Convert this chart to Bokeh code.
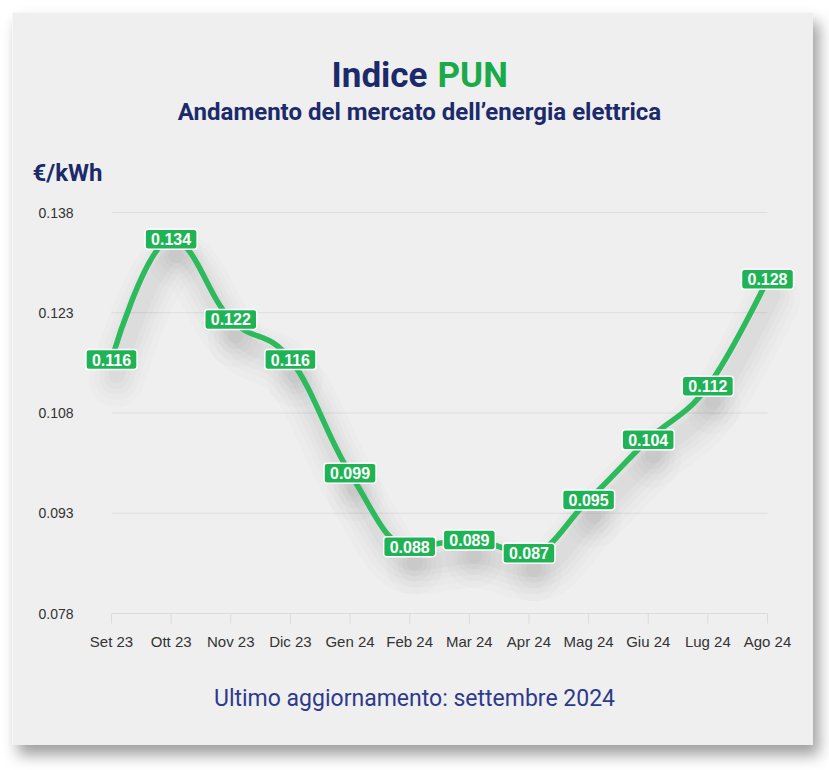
from bokeh.plotting import figure
from bokeh.models import Range1d, Label
from bokeh.core.properties import value
from bokeh.embed import file_html
from bokeh.resources import INLINE

# ---- data ----
months = ["Set 23", "Ott 23", "Nov 23", "Dic 23", "Gen 24", "Feb 24",
          "Mar 24", "Apr 24", "Mag 24", "Giu 24", "Lug 24", "Ago 24"]
pun = [0.116, 0.134, 0.122, 0.116, 0.099, 0.088,
       0.089, 0.087, 0.095, 0.104, 0.112, 0.128]
y_ticks = [0.078, 0.093, 0.108, 0.123, 0.138]
y_tick_labels = ["0.078", "0.093", "0.108", "0.123", "0.138"]

NAVY = "#1b2a6b"
GREEN_TITLE = "#1aaa4a"
LINE_GREEN = "#2dba5c"
BOX_GREEN = "#1fb356"
CARD = "#efefef"
AXIS_GRAY = "#dcdcdc"

# card geometry (page px)
CX0, CY0, CX1, CY1 = 12, 12, 813, 745
# where the category/value axes sit (page px)
PX_FIRST, PX_LAST = 111, 767
PY_TOP, PY_BOT = 212, 613

W, H = CX1 - CX0, CY1 - CY0
ncat = len(months) - 1
ux = (PX_LAST - PX_FIRST) / ncat                       # px per category
uy = (PY_BOT - PY_TOP) / (y_ticks[-1] - y_ticks[0])     # px per value unit


def dx(px):
    return (px - PX_FIRST) / ux


def dy(py):
    return y_ticks[0] + (PY_BOT - py) / uy


p = figure(width=W, height=H, output_backend="svg", toolbar_location=None,
           x_range=Range1d(dx(CX0), dx(CX1)),
           y_range=Range1d(dy(CY1), dy(CY0)),
           min_border=0,
           background_fill_color=CARD, border_fill_color=CARD,
           outline_line_color=None)
p.margin = (CY0, 0, 0, CX0)
p.styles = {"box-shadow": "6px 10px 14px rgba(0,0,0,0.38)"}
p.xaxis.visible = False
p.yaxis.visible = False
p.xgrid.grid_line_color = None
p.ygrid.grid_line_color = None

nt = len(y_ticks)
cats = list(range(len(months)))

# horizontal gridlines (value ticks) spanning the category extent
p.segment(x0=[0] * (nt - 1), x1=[ncat] * (nt - 1), y0=y_ticks[1:], y1=y_ticks[1:],
          line_color="#dedede", line_width=1)
# category axis line + tick marks
p.segment(x0=[0], x1=[ncat], y0=[y_ticks[0]], y1=[y_ticks[0]],
          line_color=AXIS_GRAY, line_width=1)
p.segment(x0=cats, x1=cats, y0=[y_ticks[0]] * len(cats),
          y1=[y_ticks[0] - 10 / uy] * len(cats), line_color=AXIS_GRAY, line_width=1)
# value tick labels
p.text(x=[0] * nt, y=y_ticks, text=y_tick_labels, x_offset=-38,
       text_align="right", text_baseline="middle", text_font=value("Liberation Sans"),
       text_font_size="14px", text_color="#333333")
# category labels
p.text(x=cats, y=[y_ticks[0]] * len(cats), text=months, y_offset=28,
       text_align="center", text_baseline="middle", text_font=value("Liberation Sans"),
       text_font_size="15px", text_color="#333333")

# ---- spline (Highcharts-style control points) ----
xs = cats
ys = pun
n = len(xs)
lc = [(xs[i], ys[i]) for i in range(n)]
rc = [(xs[i], ys[i]) for i in range(n)]
sm = 1.5
den = sm + 1
for i in range(1, n - 1):
    X, Y = xs[i], ys[i]
    lX, lY = xs[i - 1], ys[i - 1]
    nX, nY = xs[i + 1], ys[i + 1]
    lcx = (sm * X + lX) / den
    lcy = (sm * Y + lY) / den
    rcx = (sm * X + nX) / den
    rcy = (sm * Y + nY) / den
    corr = (rcy - lcy) * (rcx - X) / (rcx - lcx) + Y - rcy
    lcy += corr
    rcy += corr
    if lcy > lY and lcy > Y:
        lcy = max(lY, Y); rcy = 2 * Y - lcy
    elif lcy < lY and lcy < Y:
        lcy = min(lY, Y); rcy = 2 * Y - lcy
    if rcy > nY and rcy > Y:
        rcy = max(nY, Y); lcy = 2 * Y - rcy
    elif rcy < nY and rcy < Y:
        rcy = min(nY, Y); lcy = 2 * Y - rcy
    lc[i] = (lcx, lcy)
    rc[i] = (rcx, rcy)

seg = dict(
    x0=xs[:-1], y0=ys[:-1], x1=xs[1:], y1=ys[1:],
    cx0=[rc[i][0] for i in range(n - 1)], cy0=[rc[i][1] for i in range(n - 1)],
    cx1=[lc[i][0] for i in range(1, n)], cy1=[lc[i][1] for i in range(1, n)],
)

# soft diffuse shadow under the line
for off, wdt, a in [(20, 56, 0.010), (19, 44, 0.012), (18, 34, 0.014),
                    (17, 25, 0.016), (16, 16, 0.018)]:
    sh = {k: ([v + 5 / ux for v in vals] if k in ("x0", "x1", "cx0", "cx1")
              else [v - off / uy for v in vals]) for k, vals in seg.items()}
    p.bezier(**sh, line_color="black", line_alpha=a, line_width=wdt, line_cap="round")

p.bezier(**seg, line_color=LINE_GREEN, line_width=5.5, line_cap="round")

# ---- data labels ----
for i, v in enumerate(pun):
    p.add_layout(Label(x=i, y=v, text=f"{v:.3f}", text_align="center",
                       text_baseline="middle", text_color="white",
                       text_font="Liberation Sans", text_font_style="bold",
                       text_font_size="16px",
                       background_fill_color=BOX_GREEN,
                       border_line_color="white", border_line_width=1.5,
                       padding=(6, 4), border_radius=3))


# ---- titles and texts (py = desired baseline in page px) ----
def txt(px, py, s, size, color, style="bold", align="center", font="Roboto"):
    fs = float(size.replace("px", ""))
    p.add_layout(Label(x=dx(px), y=dy(py - 0.4 * fs), text=s, text_align=align,
                       text_baseline="alphabetic", text_color=color,
                       text_font=font, text_font_style=style,
                       text_font_size=size))


txt(427, 89, "Indice", "35px", NAVY, align="right")
txt(437, 89, "PUN", "35px", GREEN_TITLE, align="left")
txt(419, 121, "Andamento del mercato dell\u2019energia elettrica", "24px", NAVY)
txt(32, 182, "\u20ac/kWh", "24px", NAVY, align="left")
txt(414, 707, "Ultimo aggiornamento: settembre 2024", "23px", "#2d3a8c", style="normal")

open("out.html", "w").write(file_html(p, INLINE))
